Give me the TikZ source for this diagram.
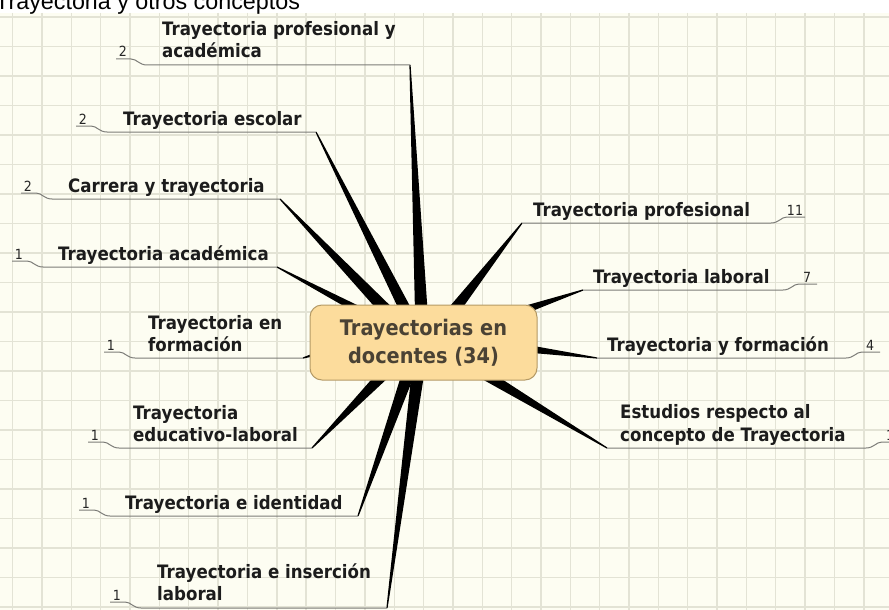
\documentclass[tikz,border=0pt]{standalone}
\usepackage{fontspec}
\setmainfont{DejaVu Sans}[FakeStretch=0.9]
\newfontfamily\titlefont{Liberation Sans}
\usetikzlibrary{calc}
\definecolor{bgcream}{HTML}{FDFDF2}
\definecolor{gridcol}{HTML}{E3E3D5}
\definecolor{boxfill}{HTML}{FCDC9C}
\definecolor{boxedge}{HTML}{B49A66}
\definecolor{roottext}{HTML}{4A4234}
\definecolor{ulcol}{HTML}{7C7C78}
\definecolor{numcol}{HTML}{262626}
\definecolor{lblcol}{HTML}{1C1C1C}
\newcommand\spoke[3]{%
  \coordinate (tmpI) at ($(#2)!-14pt!(#1)$);
  \fill[black] ($(#1)!0.6pt!90:(tmpI)$) -- ($(tmpI)!#3!-90:(#1)$) -- ($(tmpI)!#3!90:(#1)$) -- ($(#1)!0.6pt!-90:(tmpI)$) -- cycle;}
\newcommand\leftul[3]{%
  \draw[ul] (#1-7,#2-6) -- (#1+8,#2-6) .. controls (#1+14,#2-6) and (#1+16,#2) .. (#1+24,#2) -- (#3);}
\newcommand\rightul[3]{%
  \draw[ul] (#3) -- (#1-24,#2) .. controls (#1-16,#2) and (#1-14,#2-6) .. (#1-8,#2-6) -- (#1+10,#2-6);}
\tikzset{
  lbl/.style={anchor=base west, inner sep=0pt, text=lblcol, font=\bfseries\fontsize{18.5}{22}\selectfont},
  num/.style={anchor=base, inner sep=0pt, text=numcol, font=\fontsize{14}{16}\selectfont},
  ul/.style={draw=ulcol, line width=1pt},
  rootbox/.style={rounded corners=12pt, fill=boxfill, draw=boxedge, line width=1pt,
    minimum width=227pt, minimum height=75pt, align=center, text=roottext,
    font=\bfseries\fontsize{21.5}{28}\selectfont, inner sep=0pt}
}
\begin{document}
\begin{tikzpicture}[x=1pt,y=-1pt]
\useasboundingbox (0,0) rectangle (889,610);
\clip (0,0) rectangle (889,610);
\fill[white] (0,0) rectangle (889,610);
\fill[bgcream] (0,13) rectangle (889,610);
\foreach \k in {-1,...,29} {\draw[gridcol, line width=1.4pt] (42+29.35*\k,13) -- (42+29.35*\k,610);}
\foreach \k in {0,...,20} {\draw[gridcol, line width=1.4pt] (0,17+29.5*\k) -- (889,17+29.5*\k);}
\node[anchor=base west, inner sep=0pt, font=\titlefont\fontsize{23.3}{28}\selectfont] (title) at (-5,10) {Trayectoria y otros conceptos};

% outer (thin) ends of connectors
\coordinate (o1) at (410,65);
\coordinate (o2) at (316,132);
\coordinate (o3) at (280,199);
\coordinate (o4) at (277,267);
\coordinate (o5) at (303,358);
\coordinate (o6) at (312,448);
\coordinate (o7) at (358,516);
\coordinate (o8) at (387,608);
\coordinate (o9) at (522,223);
\coordinate (o10) at (583,290);
\coordinate (o11) at (597,358);
\coordinate (o12) at (607,448);
% inner ends at the central topic
\coordinate (i1) at (421,305);
\coordinate (i2) at (403,305);
\coordinate (i3) at (381,305);
\coordinate (i4) at (349,305);
\coordinate (i5) at (313,355);
\coordinate (i6) at (378,380);
\coordinate (i7) at (406,380);
\coordinate (i8) at (417,380);
\coordinate (i9) at (458,305);
\coordinate (i10) at (536,306);
\coordinate (i11) at (537,350);
\coordinate (i12) at (494,380);

\spoke{o1}{i1}{6.5pt}
\spoke{o2}{i2}{6pt}
\spoke{o3}{i3}{6.5pt}
\spoke{o4}{i4}{4pt}
\spoke{o5}{i5}{2.5pt}
\spoke{o6}{i6}{6pt}
\spoke{o7}{i7}{6.5pt}
\spoke{o8}{i8}{6.5pt}
\spoke{o9}{i9}{6pt}
\spoke{o10}{i10}{4pt}
\spoke{o11}{i11}{4pt}
\spoke{o12}{i12}{5.5pt}

\node[rootbox] (root) at (423.5,342.5) {Trayectorias en\\docentes (34)};

% underlines
\leftul{123}{65}{o1}
\leftul{83}{132}{o2}
\leftul{28}{199}{o3}
\leftul{19}{267}{o4}
\leftul{111}{358}{o5}
\leftul{95}{448}{o6}
\leftul{86}{516}{o7}
\leftul{117}{608}{o8}
\rightul{795}{223}{o9}
\rightul{807}{290}{o10}
\rightul{870}{358}{o11}
\rightul{890}{448}{o12}

% counts
\node[num] (n1) at (123,57) {2};
\node[num] (n2) at (83,124) {2};
\node[num] (n3) at (28,191) {2};
\node[num] (n4) at (19,259) {1};
\node[num] (n5) at (111,350) {1};
\node[num] (n6) at (95,440) {1};
\node[num] (n7) at (86,508) {1};
\node[num] (n8) at (117,600) {1};
\node[num] (n9) at (795,215) {11};
\node[num] (n10) at (807,282) {7};
\node[num] (n11) at (870,350) {4};
\node[num] (n12) at (890,440) {1};

% labels
\node[lbl] (l1a) at (162,36) {Trayectoria profesional y};
\node[lbl] (l1b) at (162,58) {académica};
\node[lbl] (l2) at (123,125) {Trayectoria escolar};
\node[lbl] (l3) at (68,192) {Carrera y trayectoria};
\node[lbl] (l4) at (58,260) {Trayectoria académica};
\node[lbl] (l5a) at (148,329) {Trayectoria en};
\node[lbl] (l5b) at (148,351) {formación};
\node[lbl] (l6a) at (133,419) {Trayectoria};
\node[lbl] (l6b) at (133,441) {educativo-laboral};
\node[lbl] (l7) at (125,509) {Trayectoria e identidad};
\node[lbl] (l8a) at (157,578) {Trayectoria e inserción};
\node[lbl] (l8b) at (157,600) {laboral};
\node[lbl] (l9) at (533,216) {Trayectoria profesional};
\node[lbl] (l10) at (593,283) {Trayectoria laboral};
\node[lbl] (l11) at (607,351) {Trayectoria y formación};
\node[lbl] (l12a) at (620,418) {Estudios respecto al};
\node[lbl] (l12b) at (620,441) {concepto de Trayectoria};
\end{tikzpicture}
\end{document}
